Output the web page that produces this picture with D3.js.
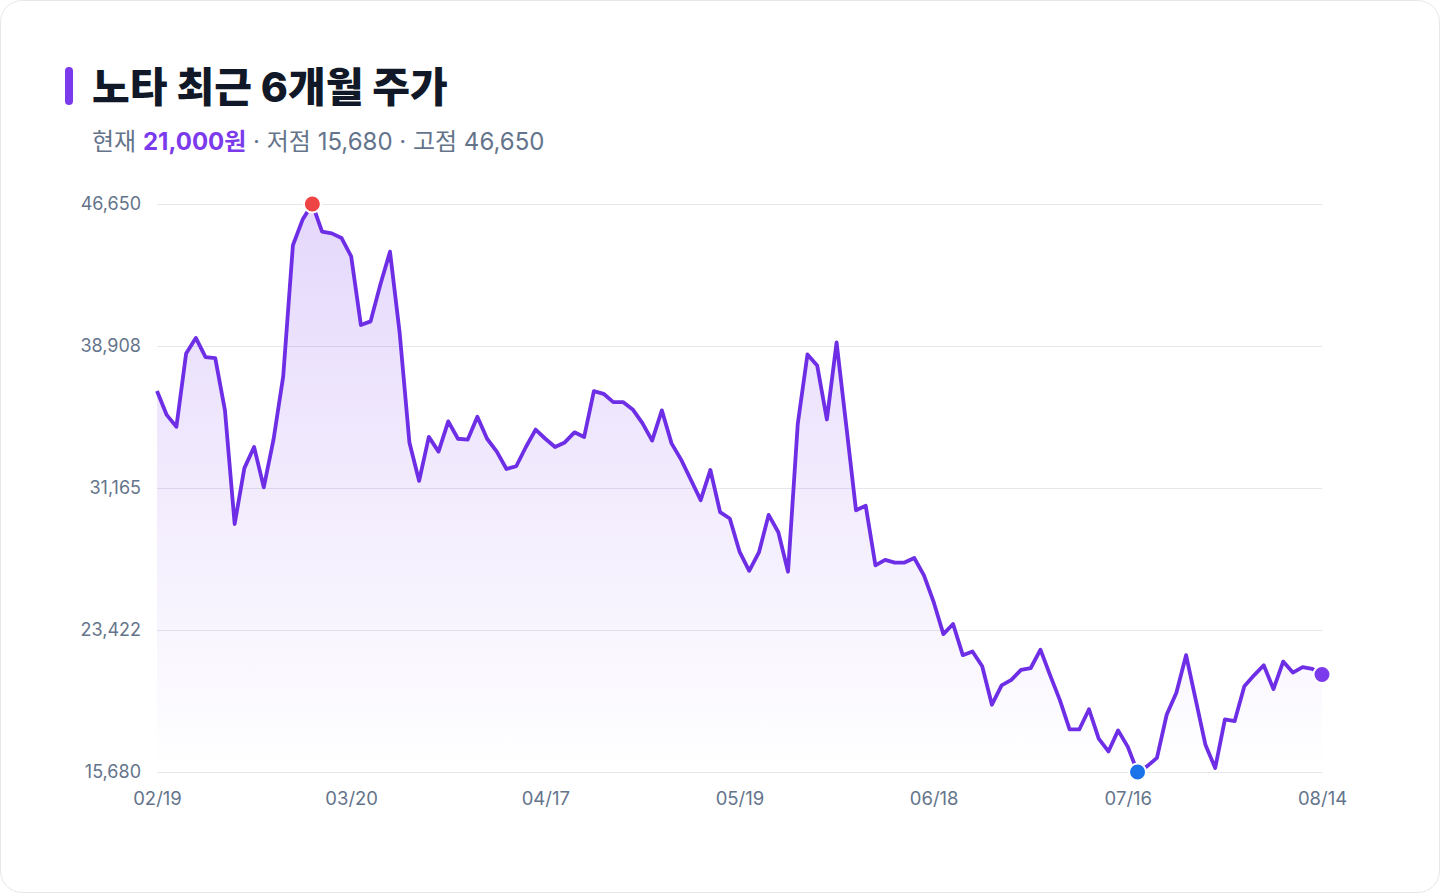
<!DOCTYPE html>
<html lang="ko">
<head>
<meta charset="utf-8">
<script src="https://cdn.jsdelivr.net/npm/d3@7"></script>
<style>
  html, body { margin: 0; padding: 0; background: #ffffff; }
  body { font-family: Inter, "Noto Sans CJK KR", "Noto Sans", sans-serif; }
  .card {
    position: absolute; left: 0; top: 0; width: 1438px; height: 891px;
    border: 1px solid #e5e7eb; border-radius: 22px; background: #fff;
  }
  svg { position: absolute; left: 0; top: 0; }
</style>
</head>
<body>
<div class="card"></div>
<svg></svg>
<script>
const w = 1440;
const h = 893;
const margin = { top: 204, right: 118, bottom: 121, left: 157 };

const title = '노타 최근 6개월 주가';
const currentPrice = 21000;

// closing prices, one per trading day
const prices = [
    36450, 35150, 34500, 38500, 39350, 38300, 38250, 35400, 29200, 32250,
    33400, 31200, 33800, 37250, 44400, 45800, 46650, 45150, 45050, 44800,
    43800, 40050, 40250, 42250, 44050, 39600, 33650, 31550, 33950, 33150,
    34800, 33850, 33800, 35050, 33850, 33150, 32200, 32350, 33400, 34350,
    33850, 33400, 33650, 34200, 33950, 36450, 36300, 35850, 35850, 35450,
    34700, 33750, 35400, 33600, 32700, 31600, 30500, 32150, 29850, 29500,
    27700, 26650, 27650, 29700, 28750, 26600, 34650, 38450, 37850, 34900,
    39100, 34550, 29950, 30200, 26950, 27250, 27100, 27100, 27350, 26400,
    24950, 23200, 23750, 22050, 22250, 21450, 19350, 20400, 20700, 21250,
    21350, 22350, 20950, 19600, 18000, 18000, 19100, 17500, 16800, 17950,
    17050, 15680, 16000, 16450, 18800, 20000, 22050, 19600, 17150, 15900,
    18550, 18450, 20350, 20950, 21500, 20200, 21700, 21100, 21400, 21300,
    21000
];

// x tick labels every 20 trading days
const tickIndex = [0, 20, 40, 60, 80, 100, 120];
const tickLabels = ['02/19', '03/20', '04/17', '05/19', '06/18', '07/16', '08/14'];

// y ticks: low to high in four equal steps
const yTickValues = [15680, 23422.5, 31165, 38907.5, 46650];
const yTickLabels = ['15,680', '23,422', '31,165', '38,908', '46,650'];

const lowPrice = d3.min(prices);
const highPrice = d3.max(prices);

const fmt = d3.format(',.0f');

const svg = d3.select('svg').attr('width', w).attr('height', h);

// title + accent bar
svg.append('rect')
    .attr('x', 65).attr('y', 67).attr('width', 8).attr('height', 38)
    .attr('rx', 4).attr('fill', '#7c3aed');
svg.append('text')
    .attr('x', 92).attr('y', 102)
    .attr('font-size', 41).attr('font-weight', 800)
    .attr('fill', '#111827')
    .text(title);

const sub = svg.append('text')
    .attr('x', 92).attr('y', 150)
    .attr('font-size', 24).attr('fill', '#64748b');
sub.append('tspan').text('현재 ');
sub.append('tspan').attr('font-weight', 700).attr('fill', '#7c3aed')
    .text(fmt(currentPrice) + '원');
sub.append('tspan').text(' · 저점 ' + fmt(lowPrice) + ' · 고점 ' + fmt(highPrice));

// scales
const xScale = d3.scaleLinear()
    .domain([0, prices.length - 1])
    .range([margin.left, w - margin.right]);
const yScale = d3.scaleLinear()
    .domain([lowPrice, highPrice])
    .range([h - margin.bottom, margin.top]);

// gridlines + y labels
const yAxis = d3.axisLeft(yScale)
    .tickValues(yTickValues)
    .tickSize(-(w - margin.right - margin.left))
    .tickPadding(16)
    .tickFormat((d, i) => yTickLabels[i]);

svg.append('g')
    .attr('transform', 'translate(' + margin.left + ',0)')
    .call(yAxis)
    .call((g) => g.select('.domain').remove())
    .call((g) => g.selectAll('line').attr('stroke', '#e5e7eb'))
    .call((g) => g.selectAll('text')
        .attr('font-size', 18).attr('fill', '#64748b')
        .attr('font-family', 'Inter, "Noto Sans CJK KR", sans-serif'));

// x labels
const xAxis = d3.axisBottom(xScale)
    .tickValues(tickIndex)
    .tickSize(0)
    .tickPadding(20)
    .tickFormat((d, i) => tickLabels[i]);

svg.append('g')
    .attr('transform', 'translate(0,' + (h - margin.bottom) + ')')
    .call(xAxis)
    .call((g) => g.select('.domain').remove())
    .call((g) => g.selectAll('text')
        .attr('font-size', 18.5).attr('fill', '#64748b')
        .attr('font-family', 'Inter, "Noto Sans CJK KR", sans-serif'));

// area gradient
const defs = svg.append('defs');
const grad = defs.append('linearGradient')
    .attr('id', 'fill').attr('x1', 0).attr('y1', 0).attr('x2', 0).attr('y2', 1);
grad.append('stop').attr('offset', '0%').attr('stop-color', '#7c3aed').attr('stop-opacity', 0.2);
grad.append('stop').attr('offset', '100%').attr('stop-color', '#7c3aed').attr('stop-opacity', 0);

const area = d3.area()
    .x((d, i) => xScale(i))
    .y0(yScale(lowPrice))
    .y1((d) => yScale(d));
const line = d3.line()
    .x((d, i) => xScale(i))
    .y((d) => yScale(d));

svg.append('path')
    .datum(prices)
    .attr('d', area)
    .attr('fill', 'url(#fill)');

svg.append('path')
    .datum(prices)
    .attr('d', line)
    .attr('fill', 'none')
    .attr('stroke', '#6d2ee6')
    .attr('stroke-width', 3.8)
    .attr('stroke-linejoin', 'round');

// markers: high, low, last
const hiIdx = prices.indexOf(highPrice);
const loIdx = prices.indexOf(lowPrice);
const lastIdx = prices.length - 1;

const markers = [
    { i: hiIdx, color: '#ef4444' },
    { i: loIdx, color: '#1a73e8' },
    { i: lastIdx, color: '#7c3aed' }
];

svg.selectAll('circle.marker')
    .data(markers)
    .enter()
    .append('circle')
    .attr('class', 'marker')
    .attr('cx', (d) => xScale(d.i))
    .attr('cy', (d) => yScale(prices[d.i]))
    .attr('r', 8.5)
    .attr('fill', (d) => d.color)
    .attr('stroke', '#fff')
    .attr('stroke-width', 2);
</script>
</body>
</html>
